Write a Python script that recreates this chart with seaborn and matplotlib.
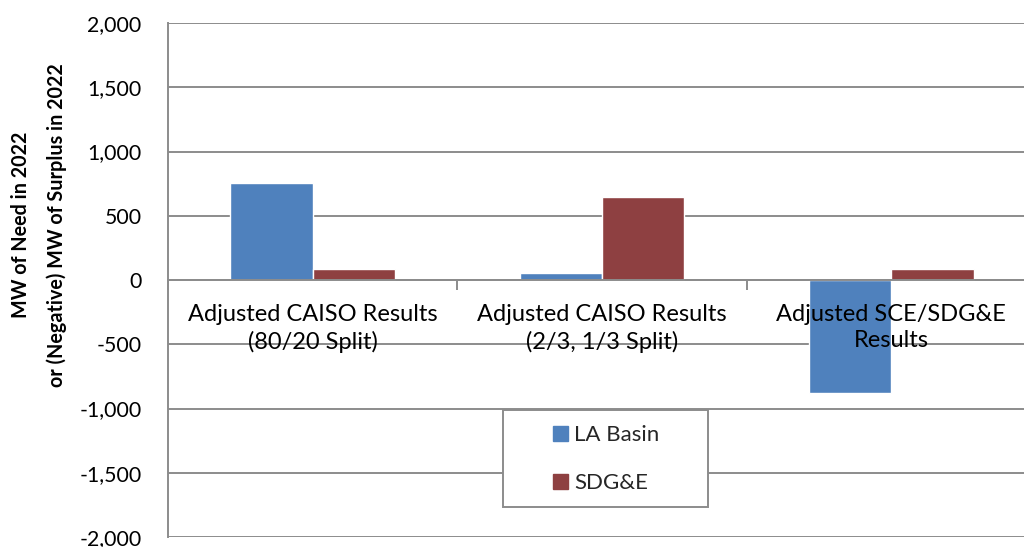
import matplotlib
matplotlib.use("Agg")
import matplotlib.pyplot as plt
import matplotlib.ticker as mticker
from matplotlib.patches import Rectangle
from matplotlib.lines import Line2D
import seaborn as sns
import pandas as pd

categories = ["Adjusted CAISO Results\n(80/20 Split)",
              "Adjusted CAISO Results\n(2/3, 1/3 Split)",
              "Adjusted SCE/SDG&E\nResults"]
series = ["LA Basin", "SDG&E"]
la_basin = [755, 57, -882]
sdge = [83, 646, 83]
colors = ["#4F81BD", "#8E4041"]
yticks = [-2000, -1500, -1000, -500, 0, 500, 1000, 1500, 2000]

df = pd.DataFrame({
    "category": categories * 2,
    "series": [series[0]] * 3 + [series[1]] * 3,
    "value": la_basin + sdge,
})

sns.set_theme(style="white")
plt.rcParams["font.family"] = ["Lato", "DejaVu Sans"]

fig = plt.figure(figsize=(10.24, 5.47), dpi=100)
ax = fig.add_axes([168 / 1024, 10 / 547, 868 / 1024, 514 / 547])

sns.barplot(data=df, x="category", y="value", hue="series", order=categories,
            hue_order=series, palette=colors, width=0.57, saturation=1,
            ax=ax, legend=False, zorder=3)

ax.set_ylim(-2000, 2000)
ax.set_xlim(-0.5, 2.5)
ax.set_yticks(yticks)
ax.yaxis.set_major_formatter(mticker.FuncFormatter(lambda v, p: f"{int(v):,}"))
ax.tick_params(axis="y", length=0, pad=19, labelsize=15.3, labelcolor="black")
ax.grid(axis="y", color="#8C8C8C", linewidth=1.4, zorder=0)
ax.set_axisbelow(True)

# x-axis at zero
for s in ["top", "right"]:
    ax.spines[s].set_visible(False)
ax.spines["left"].set_color("#8C8C8C")
ax.spines["left"].set_linewidth(1.4)
ax.spines["bottom"].set_position(("data", 0))
ax.spines["bottom"].set_color("#8C8C8C")
ax.spines["bottom"].set_linewidth(1.4)
ax.spines["bottom"].set_zorder(4)
ax.set_xticks([0, 1, 2])
ax.set_xticklabels([])
ax.set_xticks([-0.5, 0.5, 1.5, 2.5], minor=True)
ax.tick_params(axis="x", which="major", length=0)
ax.tick_params(axis="x", which="minor", length=7, width=1.4, color="#8C8C8C",
               direction="out", bottom=True)
ax.set_xlabel("")

# category labels drawn on top of the bars
for i, cat in enumerate(categories):
    ax.annotate(cat, xy=(i, 0), xytext=(0, -17.5), textcoords="offset points",
                ha="center", va="top", fontsize=17, color="black",
                linespacing=1.3, multialignment="center", zorder=7)

ax.set_ylabel("MW of Need in 2022\nor (Negative) MW of Surplus in 2022",
              fontsize=14.2, fontweight="bold", color="black", linespacing=1.95)
ax.yaxis.label.set_va("center")
ax.yaxis.set_label_coords(-0.149, 0.607)

# legend
ax.add_patch(Rectangle((0.386, 0.058), 0.236, 0.189, transform=ax.transAxes,
                       facecolor="white", edgecolor="#8C8C8C", linewidth=1.4,
                       zorder=5))
handles = [Line2D([], [], marker="s", linestyle="none", markersize=10.8,
                  markerfacecolor=c, markeredgecolor=c) for c in colors]
leg = ax.legend(handles, series, loc="center", bbox_to_anchor=(0.5046, 0.1518),
                frameon=False, fontsize=16, labelspacing=1.27,
                handlelength=0.7, handletextpad=0.3)
leg.set_zorder(6)

fig.savefig("out.png", dpi=100)
